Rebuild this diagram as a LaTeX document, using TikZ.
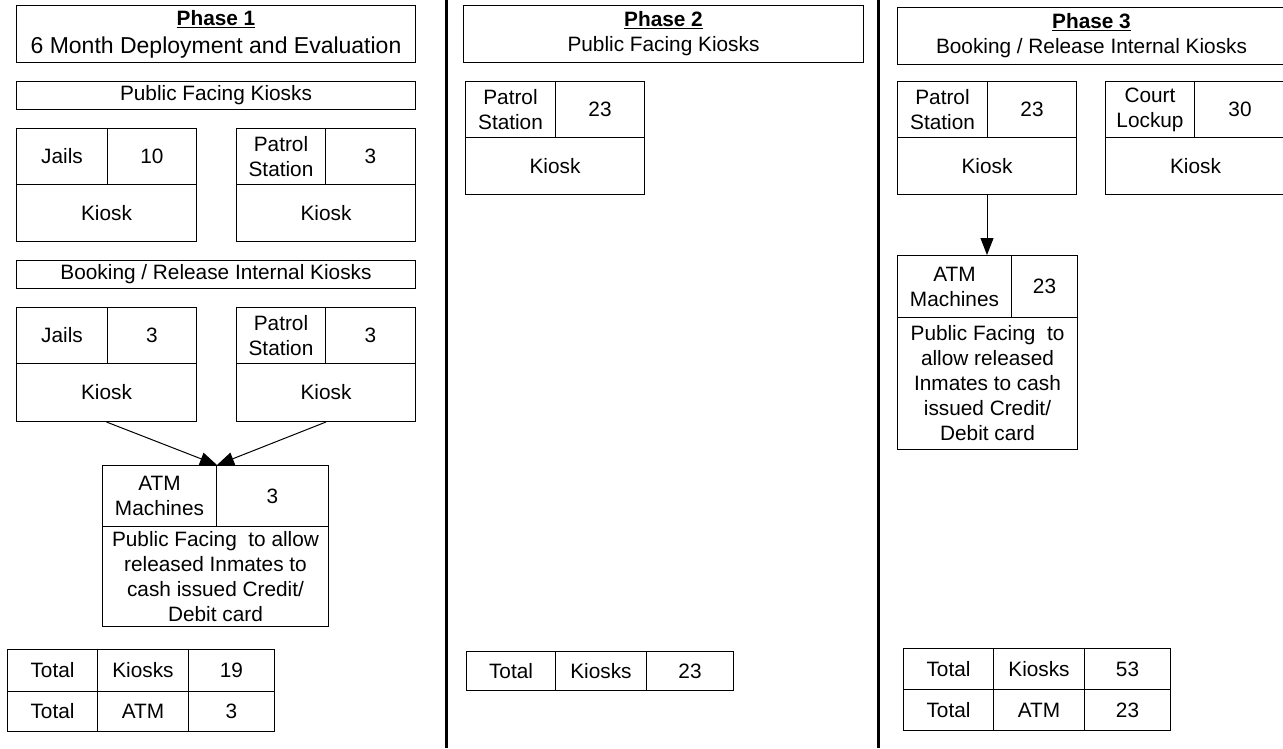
\documentclass[tikz,border=0pt]{standalone}
\usepackage{fontspec}
\setmainfont{Liberation Sans}
\usetikzlibrary{arrows.meta}

\tikzset{
  cell/.style 2 args={draw, line width=1pt, rectangle, inner sep=0pt, anchor=north west,
    align=center, minimum width=#1pt, minimum height=#2pt,
    font=\fontsize{20.8}{25}\selectfont},
  divider/.style={line width=3pt},
  arr/.style={line width=1pt, -{Triangle[length=17pt,width=13pt]}},
}

\begin{document}
\begin{tikzpicture}[x=1pt,y=-1pt]
        \useasboundingbox (0,0) rectangle (1283,748);

        % Column dividers
        \draw[divider] (446,0) -- (446,748);
        \draw[divider] (878,0) -- (878,748);

        % Phase 1
        \node[cell={399}{57}] (hdr1) at (16,5) {\underline{\textbf{Phase 1}}\\[3pt]{\fontsize{23}{28}\selectfont 6 Month Deployment and Evaluation}};
        \node[cell={399}{28}] (pub1) at (16,81) {Public Facing Kiosks};
        \node[cell={91}{56}] (jl1) at (16,128) {Jails};
        \node[cell={89}{56}] (jn1) at (107,128) {10};
        \node[cell={180}{57}] (jk1) at (16,184) {Kiosk};
        \node[cell={89}{56}] (pl1) at (236,128) {Patrol\\Station};
        \node[cell={90}{56}] (pn1) at (325,128) {3};
        \node[cell={179}{57}] (pk1) at (236,184) {Kiosk};

        \node[cell={399}{28}] (book1) at (16,260) {Booking / Release Internal Kiosks};
        \node[cell={91}{56}] (jl2) at (16,307) {Jails};
        \node[cell={89}{56}] (jn2) at (107,307) {3};
        \node[cell={180}{58}] (jk2) at (16,363) {Kiosk};
        \node[cell={89}{56}] (pl2) at (236,307) {Patrol\\Station};
        \node[cell={90}{56}] (pn2) at (325,307) {3};
        \node[cell={179}{58}] (pk2) at (236,363) {Kiosk};

        \node[cell={114}{61}] (al1) at (102,465) {ATM\\Machines};
        \node[cell={112}{61}] (an1) at (216,465) {3};
        \node[cell={226}{100}] (ad1) at (102,526) {Public Facing~ to allow\\released Inmates to\\cash issued Credit/\\Debit card};

        \draw[arr] (jk2.south) -- (al1.north east);
        \draw[arr] (pk2.south) -- (al1.north east);

        % Phase 1 totals
        \node[cell={90}{42}] (t1a) at (7,649) {Total};
        \node[cell={91}{42}] (t1b) at (97,649) {Kiosks};
        \node[cell={86}{42}] (t1c) at (188,649) {19};
        \node[cell={90}{40}] (t1d) at (7,691) {Total};
        \node[cell={91}{40}] (t1e) at (97,691) {ATM};
        \node[cell={86}{40}] (t1f) at (188,691) {3};

        % Phase 2
        \node[cell={400}{57}] (hdr2) at (463,5) {\underline{\textbf{Phase 2}}\\Public Facing Kiosks};
        \node[cell={90}{56}] (pl3) at (465,81) {Patrol\\Station};
        \node[cell={89}{56}] (pn3) at (555,81) {23};
        \node[cell={179}{57}] (pk3) at (465,137) {Kiosk};

        % Phase 2 totals
        \node[cell={89}{39}] (t2a) at (466,651) {Total};
        \node[cell={91}{39}] (t2b) at (555,651) {Kiosks};
        \node[cell={87}{39}] (t2c) at (646,651) {23};

        % Phase 3
        \node[cell={388}{57}] (hdr3) at (897,7) {\underline{\textbf{Phase 3}}\\Booking / Release Internal Kiosks};
        \node[cell={90}{56}] (pl4) at (897,81) {Patrol\\Station};
        \node[cell={89}{56}] (pn4) at (987,81) {23};
        \node[cell={179}{57}] (pk4) at (897,137) {Kiosk};
        \node[cell={89}{56}] (cl4) at (1105,81) {Court\\Lockup};
        \node[cell={91}{56}] (cn4) at (1194,81) {30};
        \node[cell={180}{57}] (ck4) at (1105,137) {Kiosk};

        \node[cell={114}{62}] (al4) at (897,255) {ATM\\Machines};
        \node[cell={66}{62}] (an4) at (1011,255) {23};
        \node[cell={180}{132}] (ad4) at (897,317) {Public Facing~ to\\allow released\\Inmates to cash\\issued Credit/\\Debit card};

        \draw[arr] (pk4.south) -- (pk4.south |- al4.north);

        % Phase 3 totals
        \node[cell={90}{41}] (t3a) at (903,648) {Total};
        \node[cell={91}{41}] (t3b) at (993,648) {Kiosks};
        \node[cell={86}{41}] (t3c) at (1084,648) {53};
        \node[cell={90}{41}] (t3d) at (903,689) {Total};
        \node[cell={91}{41}] (t3e) at (993,689) {ATM};
        \node[cell={86}{41}] (t3f) at (1084,689) {23};
\end{tikzpicture}
\end{document}
